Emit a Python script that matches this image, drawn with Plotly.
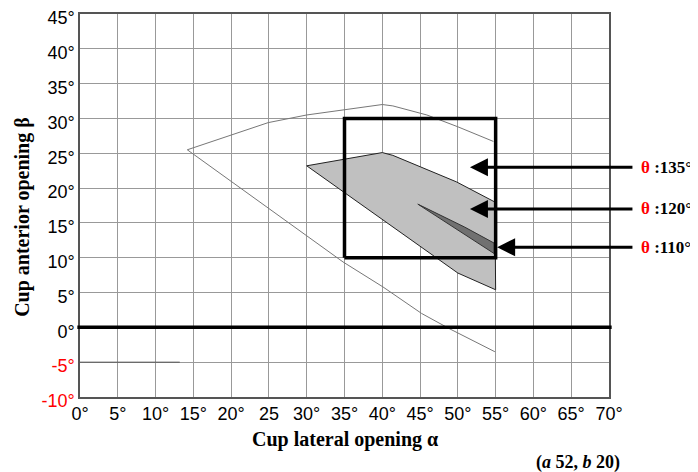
import plotly.graph_objects as go

# eixos (graus)
x_ticks = [0, 5, 10, 15, 20, 25, 30, 35, 40, 45, 50, 55, 60, 65, 70]
x_ticktext = ["0°", "5°", "10°", "15°", "20°", "25", "30°", "35°", "40°", "45°",
              "50°", "55°", "60°", "65°", "70°"]
y_ticks = [-10, -5, 0, 5, 10, 15, 20, 25, 30, 35, 40, 45]
y_ticktext = ['<span style="color:#ff0000">-10°</span>', '<span style="color:#ff0000">-5°</span>',
              "0°", "5°", "10°", "15°", "20°", "25°", "30°", "35°", "40°", "45°"]

# contorno externo (linha fina)
outer_a = [54.7, 50.0, 45.9, 41.4, 40.0, 30.0, 24.9, 14.2, 34.8, 40.1, 45.2, 48.9, 54.9]
outer_b = [26.7, 28.8, 30.5, 31.8, 32.0, 30.5, 29.4, 25.5, 9.4, 5.8, 2.0, -0.2, -3.5]
low_a = [0, 13.2]
low_b = [-5, -5]

# zona theta 135
z135_a = [30.0, 40.0, 41.4, 49.8, 54.9, 55.0, 50.0, 30.0]
z135_b = [23.2, 25.1, 24.7, 20.9, 18.0, 5.4, 7.8, 23.2]

# zona theta 110
z110_a = [44.7, 50.9, 54.8, 54.8, 44.7]
z110_b = [17.7, 14.4, 12.1, 10.6, 17.7]

# caixa (35-55, 10-30)
box_a = [35, 55, 55, 35, 35]
box_b = [10, 10, 30, 30, 10]

# setas
arrow_labels = ["135°", "120°", "110°"]
arrow_tip_a = [51.6, 51.6, 55.2]
arrow_b = [23.0, 17.0, 11.5]

fig = go.Figure()
fig.add_trace(go.Scatter(x=outer_a, y=outer_b, mode="lines",
                         line=dict(color="#777777", width=1)))
fig.add_trace(go.Scatter(x=low_a, y=low_b, mode="lines",
                         line=dict(color="#555555", width=1)))
fig.add_trace(go.Scatter(x=z135_a, y=z135_b, mode="lines", fill="toself",
                         fillcolor="#c0c0c0", line=dict(color="#222222", width=1)))
fig.add_trace(go.Scatter(x=z110_a, y=z110_b, mode="lines", fill="toself",
                         fillcolor="#707070", line=dict(color="#333333", width=1)))
fig.add_trace(go.Scatter(x=box_a, y=box_b, mode="lines",
                         line=dict(color="black", width=3.5)))

# linha do zero
fig.add_shape(type="line", xref="paper", yref="y", x0=-0.005, x1=1.005, y0=0, y1=0,
              line=dict(color="black", width=3.5))

for lab, xa, yb in zip(arrow_labels, arrow_tip_a, arrow_b):
    fig.add_annotation(x=xa, y=yb, ax=73.3, ay=yb, xref="x", yref="y", axref="x", ayref="y",
                       text="", showarrow=True, arrowhead=2, arrowsize=1.2, arrowwidth=3,
                       arrowcolor="black")
    fig.add_annotation(x=1.056, y=yb, xref="paper", yref="y", xanchor="left", yanchor="middle",
                       text='<b><span style="color:#ff0000">θ</span> :' + lab + '</b>',
                       showarrow=False,
                       font=dict(family="Liberation Serif", size=17, color="black"))

fig.add_annotation(x=0.5, y=-0.112, xref="paper", yref="paper", showarrow=False,
                   text="<b>Cup lateral opening α</b>", xanchor="center", yanchor="middle",
                   font=dict(family="Liberation Serif", size=20, color="black"))
fig.add_annotation(x=-0.108, y=0.47, xref="paper", yref="paper", showarrow=False, textangle=-90,
                   text="<b>Cup anterior opening β</b>", xanchor="center", yanchor="middle",
                   font=dict(family="Liberation Serif", size=20, color="black"))
fig.add_annotation(x=0.941, y=-0.17, xref="paper", yref="paper", showarrow=False,
                   text="<b>(<i>a</i> 52, <i>b</i> 20)</b>", xanchor="center", yanchor="middle",
                   font=dict(family="Liberation Serif", size=18, color="black"))

fig.update_xaxes(range=[0, 70], tickvals=x_ticks, ticktext=x_ticktext, showgrid=True,
                 gridcolor="#999999", gridwidth=1.2, showline=True, linecolor="#555555",
                 linewidth=1.5, mirror=True, zeroline=False, ticks="",
                 ticklabeloverflow="allow", automargin=False,
                 tickfont=dict(family="Liberation Sans", size=18, color="black"))
fig.update_yaxes(range=[-10, 45], tickvals=y_ticks, ticktext=y_ticktext, showgrid=True,
                 gridcolor="#999999", gridwidth=1.2, showline=True, linecolor="#555555",
                 linewidth=1.5, mirror=True, zeroline=False, ticks="",
                 ticklabeloverflow="allow", automargin=False, ticklabelshift=4,
                 tickfont=dict(family="Liberation Sans", size=18, color="black"))

# a pagina tem margem de 8px no body
fig.update_layout(width=690, height=464, showlegend=False, hovermode=False,
                  plot_bgcolor="white", paper_bgcolor="white",
                  margin=dict(l=72, r=89, t=6, b=75))

fig.write_html("out.html")
